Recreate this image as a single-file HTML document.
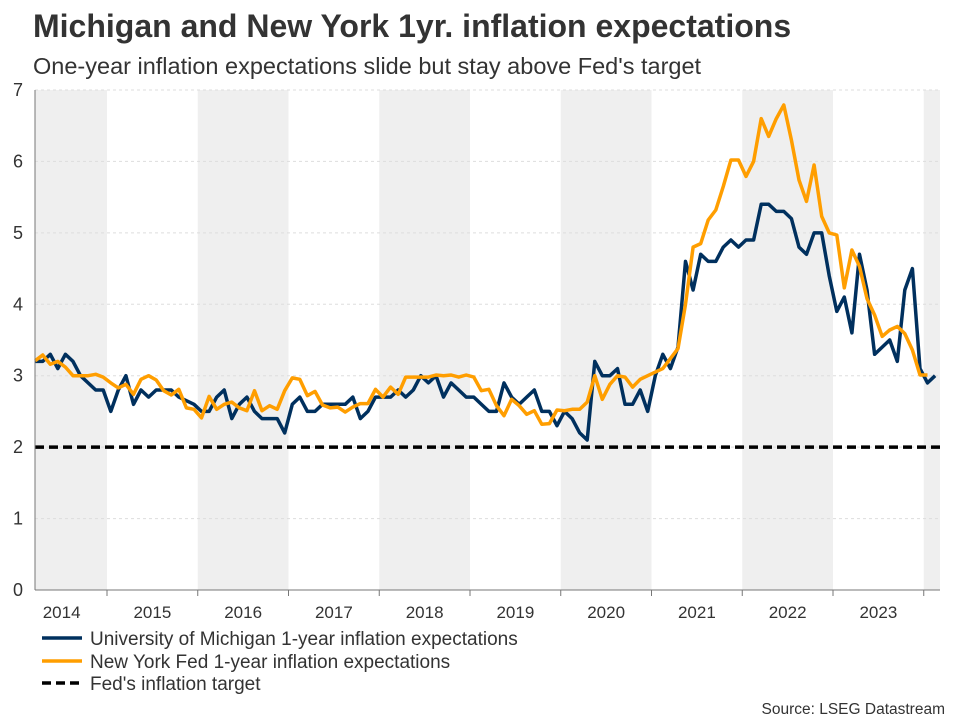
<!DOCTYPE html>
<html><head><meta charset="utf-8">
<style>
body{margin:0;background:#fff;font-family:"Liberation Sans",Arial,sans-serif;}
#wrap{position:relative;width:960px;height:720px;overflow:hidden;}
</style></head>
<body>
<div id="wrap">
<svg id="chart" width="960" height="720" xmlns="http://www.w3.org/2000/svg">
  <text x="33" y="37" font-size="32" font-weight="bold" fill="#333">Michigan and New York 1yr. inflation expectations</text>
  <text x="33" y="74" font-size="23.5" fill="#333">One-year inflation expectations slide but stay above Fed's target</text>
  <g id="bands"></g>
  <g id="grid"></g>
  <g id="series"></g>
  <g id="axes"></g>
  <g id="legend">
    <line x1="42" y1="638" x2="82" y2="638" stroke="#00305e" stroke-width="3.5"/>
    <text x="90" y="645" font-size="19" fill="#333">University of Michigan 1-year inflation expectations</text>
    <line x1="42" y1="661" x2="82" y2="661" stroke="#ff9e00" stroke-width="3.5"/>
    <text x="90" y="668" font-size="19" fill="#333">New York Fed 1-year inflation expectations</text>
    <line x1="42" y1="683" x2="82" y2="683" stroke="#000" stroke-width="3.5" stroke-dasharray="9,5"/>
    <text x="90" y="690" font-size="19" fill="#333">Fed's inflation target</text>
  </g>
  <text x="945" y="714" font-size="15.5" fill="#333" text-anchor="end">Source: LSEG Datastream</text>
</svg>
</div>
<script>
const years = [2014,2015,2016,2017,2018,2019,2020,2021,2022,2023];
const shadedYears = [2014,2016,2018,2020,2022,2024];
const yTicks = [0,1,2,3,4,5,6,7];
const fedTarget = 2;
const startYear = 2014, startMonth = 2; // March 2014
const michigan = [3.2,3.2,3.3,3.1,3.3,3.2,3.0,2.9,2.8,2.8,2.5,2.8,3.0,2.6,2.8,2.7,2.8,2.8,2.8,2.7,2.65,2.6,2.5,2.5,2.7,2.8,2.4,2.6,2.7,2.5,2.4,2.4,2.4,2.2,2.6,2.7,2.5,2.5,2.6,2.6,
2.6,2.6,2.7,2.4,2.5,2.7,2.7,2.7,2.8,2.7,2.8,3.0,2.9,3.0,2.7,2.9,2.8,2.7,2.7,2.6,2.5,2.5,2.9,2.7,2.6,2.7,2.8,2.5,2.5,2.3,2.5,2.4,2.2,2.1,
3.2,3.0,3.0,3.1,2.6,2.6,2.8,2.5,3.0,3.3,3.1,3.4,4.6,4.2,4.7,4.6,4.6,4.8,4.9,4.8,4.9,4.9,5.4,5.4,5.3,5.3,5.2,4.8,4.7,5.0,5.0,4.4,3.9,4.1,3.6,4.7,4.2,3.3,3.4,3.5,3.2,4.2,4.5,3.1,2.9,3.0];
const nyfed = [3.21,3.29,3.16,3.2,3.12,3.0,3.0,3.0,3.02,2.98,2.9,2.83,2.88,2.74,2.95,3.0,2.94,2.79,2.73,2.81,2.55,2.53,2.41,2.71,2.53,2.6,2.63,2.55,2.51,2.79,2.51,2.58,2.53,2.79,2.97,2.95,2.72,2.78,2.59,2.55,
2.56,2.49,2.56,2.61,2.61,2.81,2.7,2.84,2.74,2.98,2.98,2.98,2.98,3.01,3.0,3.01,2.98,3.01,2.98,2.79,2.81,2.58,2.44,2.67,2.58,2.46,2.51,2.32,2.33,2.52,2.51,2.53,2.53,2.63,3.0,2.67,2.88,3.0,2.98,2.84,2.95,3.0,
3.05,3.1,3.24,3.38,4.0,4.8,4.85,5.18,5.32,5.65,6.02,6.02,5.79,6.0,6.6,6.35,6.6,6.79,6.3,5.74,5.44,5.95,5.23,5.0,4.97,4.23,4.76,4.53,4.08,3.85,3.55,3.64,3.69,3.59,3.36,3.01,3.01];

const NS='http://www.w3.org/2000/svg';
const L=35,R=940,T=90,B=590;
function xT(t){return 107+(t-2015)*90.75;}
function xI(i){return xT(startYear+(startMonth+0.5+i)/12);}
function yV(v){return B-(v/7)*(B-T);}
function mk(tag,attrs,parent){const e=document.createElementNS(NS,tag);for(const k in attrs)e.setAttribute(k,attrs[k]);parent.appendChild(e);return e;}

const bands=document.getElementById('bands');
shadedYears.forEach(y=>{
  const x0=Math.max(L,xT(y)),x1=Math.min(R,xT(y+1));
  if(x1<=x0)return;
  const r=mk('rect',{x:x0,y:T,width:x1-x0,height:B-T,fill:'#efefef'},bands);
  
  
});
const grid=document.getElementById('grid');
yTicks.forEach(v=>{
  if(v>0){const g=mk('line',{x1:L,x2:R,y1:yV(v),y2:yV(v),stroke:'#dddddd','stroke-width':1,'stroke-dasharray':'3,3'},grid);
  
  }
  const t=mk('text',{x:18,y:yV(v)+6,'font-size':18,fill:'#333','text-anchor':'middle'},grid);
  t.textContent=v;
  
  
});
const axes=document.getElementById('axes');
const ya=mk('line',{x1:L,x2:L,y1:T,y2:B,stroke:'#777','stroke-width':1},axes);


const xa=mk('line',{x1:L,x2:R,y1:B,y2:B,stroke:'#777','stroke-width':1},axes);


years.forEach(y=>{
  const tk=mk('line',{x1:xT(y+1),x2:xT(y+1),y1:B,y2:B+6,stroke:'#777'},axes);
  
  
  const t=mk('text',{x:xT(y+0.5),y:B+28,'font-size':17,fill:'#333','text-anchor':'middle'},axes);
  t.textContent=y;
  
  
});
const series=document.getElementById('series');
const fl=mk('line',{x1:L,x2:R,y1:yV(fedTarget),y2:yV(fedTarget),stroke:'#000','stroke-width':3.5,'stroke-dasharray':'9,5'},series);


function path(data,color,name){
  const d=data.map((v,i)=>(i?'L':'M')+xI(i).toFixed(1)+','+yV(v).toFixed(1)).join('');
  const p=mk('path',{d:d,fill:'none',stroke:color,'stroke-width':3.5,'stroke-linejoin':'round'},series);
  
  
}
path(michigan,'#00305e','michigan-line');
path(nyfed,'#ff9e00','nyfed-line');
</script>
</body></html>
